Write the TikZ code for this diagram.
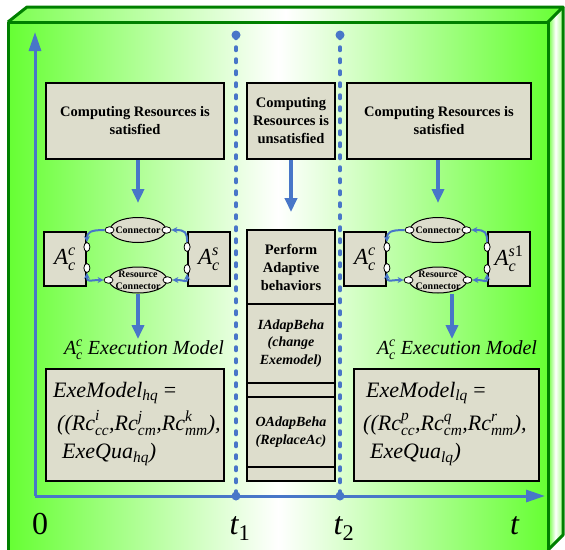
\documentclass[tikz,border=0pt]{standalone}
\usepackage{amsmath}
\usepackage{fontspec}
\setmainfont{Liberation Serif}
\usetikzlibrary{arrows.meta,calc,shapes.geometric}
\definecolor{gr}{RGB}{102,255,51}
\definecolor{dgr}{RGB}{0,128,0}
\definecolor{bl}{RGB}{72,118,200}
\definecolor{bx}{RGB}{221,221,204}
\newcommand\tx[1]{\textit{#1}}
\tikzset{
  box/.style={draw=black, line width=1.8pt, fill=bx, inner sep=0pt, align=center,
    font=\fontsize{14.5}{18}\selectfont\bfseries},
  acb/.style={minimum width=42pt, minimum height=54pt, font=\fontsize{23}{24}\selectfont},
  ell/.style={ellipse, draw=black, line width=1pt, fill=bx, inner sep=0pt},
  elltext/.style={inner sep=0pt, align=center, font=\fontsize{10}{12}\selectfont\bfseries},
  port/.style={ellipse, draw=black, line width=0.8pt, fill=white, inner sep=0pt,
    minimum width=6pt, minimum height=9pt},
  hport/.style={port, minimum width=9pt, minimum height=6.5pt},
  barrow/.style={bl, line width=3.5pt, -{Triangle[width=12pt,length=14pt]}},
  axarrow/.style={bl, line width=3pt, -{Triangle[width=12pt,length=19pt]}},
  link/.style={bl, line width=2pt},
  tip/.tip={Stealth[length=6pt,width=6pt]},
  lbl/.style={inner sep=0pt, font=\fontsize{20}{22}\selectfont\itshape},
  mtext/.style={inner sep=0pt, anchor=base west, font=\fontsize{22}{24}\selectfont},
  tlab/.style={inner sep=0pt, anchor=base, font=\fontsize{32}{34}\selectfont},
  dotline/.style={bl, line width=3.5pt, line cap=round, dash pattern=on 3.5pt off 8.5pt},
}
\begin{document}
\begin{tikzpicture}[x=1pt,y=-1pt]
\useasboundingbox (0,0) rectangle (565,549);
\clip (0,0) rectangle (565,549);
% cuboid faces
\shade[left color=gr, right color=gr, middle color=white] (8,22) rectangle (548,560);
\shade[left color=gr!85!white, right color=gr, middle color=white]
  (8,22) -- (27,7) -- (563,7) -- (548,22) -- cycle;
\shade[left color=gr, right color=gr!60!white, middle color=white]
  (548,22) -- (563,7) -- (563,535) -- (548,550) -- cycle;
\draw[dgr, line width=3pt, line join=round] (8,560) -- (8,22) -- (548,22) -- (548,560);
\draw[dgr, line width=3pt, line join=round] (8,22) -- (27,7) -- (563,7) -- (548,22);
\draw[dgr, line width=3pt, line join=round] (563,7) -- (563,535) -- (548,550);

% axes
\coordinate (o) at (35,496);
\coordinate (ytop) at (35,32);
\coordinate (xend) at (545,496);
\coordinate (d1t) at (236,35);
\coordinate (d1b) at (236,496);
\coordinate (d2t) at (340,35);
\coordinate (d2b) at (340,496);
\draw[dotline] (d1t) -- (d1b);
\draw[dotline] (d2t) -- (d2b);
\draw[axarrow] (o) -- (ytop);
\draw[axarrow] (o) -- (xend);
\fill[bl] (d1t) circle (4.5) (d1b) circle (4.5) (d2t) circle (4.5) (d2b) circle (4.5);

\node[tlab] (l0) at (40,534) {0};
\node[tlab] (lt1) at (240,534) {$\tx{t}_{\text{1}}$};
\node[tlab] (lt2) at (344,534) {$\tx{t}_{\text{2}}$};
\node[tlab] (ltt) at (515,534) {\tx{t}};

% top boxes
\node[box, minimum width=178pt, minimum height=76pt] (lt) at (135,121) {Computing Resources is\\satisfied};
\node[box, minimum width=88pt, minimum height=76pt] (mt) at (291,121) {Computing\\Resources is\\unsatisfied};
\node[box, minimum width=184pt, minimum height=76pt] (rt) at (439,121) {Computing Resources is\\satisfied};

% middle column
\node[box, minimum width=88pt, minimum height=74pt] (perf) at (291,267) {Perform\\Adaptive\\behaviors};
\node[box, minimum width=88pt, minimum height=79pt, font=\fontsize{14}{17.5}\selectfont\bfseries\itshape] (iad) at (291,343.5) {IAdapBeha\\(change\\Exemodel)};
\node[box, minimum width=88pt, minimum height=14pt] (s1) at (291,390) {};
\node[box, minimum width=88pt, minimum height=70pt, font=\fontsize{14}{17.5}\selectfont\bfseries\itshape] (oad) at (291,432) {OAdapBeha\\(ReplaceAc)};
\node[box, minimum width=88pt, minimum height=14pt] (s2) at (291,474) {};
\draw[barrow, shorten >=17pt] (mt.south) -- (perf.north);

% component groups
\foreach \g/\dx/\sl in {1/0/\tx{s},2/300/\tx{s}\text{1}}{
  \node[box, acb] (ac\g) at ({65+\dx},259) {$\tx{A}^{\tx{c}}_{\tx{c}}$};
  \node[box, acb] (as\g) at ({209+\dx},259) {$\tx{A}^{\sl}_{\tx{c}}$};
  \node[ell, minimum width=56pt, minimum height=25pt] (con\g) at ({138+\dx},230) {};
  \node[elltext] (cont\g) at (con\g) {Connector};
  \node[ell, minimum width=58pt, minimum height=26pt] (rc\g) at ({138+\dx},280) {};
  \node[elltext] (rct\g) at (rc\g) {Resource\\Connector};
  \node[port] (p\g1) at ($(ac\g.east)+(0,-12)$) {};
  \node[port] (p\g2) at ($(ac\g.east)+(0,9)$) {};
  \node[port] (p\g3) at ($(as\g.west)+(0,-12)$) {};
  \node[port] (p\g4) at ($(as\g.west)+(0,10)$) {};
  \node[hport] (q\g1) at (con\g.west) {};
  \node[hport] (q\g2) at (con\g.east) {};
  \node[hport] (q\g3) at (rc\g.west) {};
  \node[hport] (q\g4) at (rc\g.east) {};
  \draw[link, -tip] (q\g1.west) .. controls +(-14,0) and +(0,-10) .. (p\g1.north);
  \draw[link, -tip] (p\g3.north) .. controls +(0,-10) and +(14,0) .. (q\g2.east);
  \draw[link, tip-tip] (p\g2.south) .. controls +(0,10) and +(-14,0) .. (q\g3.west);
  \draw[link, tip-tip] (q\g4.east) .. controls +(14,0) and +(0,10) .. (p\g4.south);
}
\draw[barrow, shorten >=14pt] (lt.south -| con1.north) -- (con1.north);
\draw[barrow, shorten >=14pt] (rt.south -| con2.north) -- (con2.north);

% execution model labels
\node[lbl] (lbl1) at (144,350) {$\tx{A}^{\tx{c}}_{\tx{c}}$ Execution Model};
\node[lbl] (lbl2) at (457,350) {$\tx{A}^{\tx{c}}_{\tx{c}}$ Execution Model};
\draw[barrow, shorten >=1pt] (rc1.south) -- (rc1.south |- lbl1.north);
\draw[barrow, shorten >=1pt] ($(rc2.south)+(14,0)$) -- ($(rc2.south |- lbl2.north)+(14,0)$);

% model boxes
\node[box, minimum width=178pt, minimum height=112pt] (m1) at (135,425) {};
\node[box, minimum width=185pt, minimum height=112pt] (m2) at (446.5,425) {};
\node[mtext] (m1a) at (53,397) {$\tx{ExeModel}_{\tx{hq}}\ \text{=}$};
\node[mtext] (m1b) at (57,430) {$\tx{((Rc}^{\tx{i}}_{\tx{cc}}\tx{,Rc}^{\tx{j}}_{\tx{cm}}\tx{,Rc}^{\tx{k}}_{\tx{mm}}\tx{),}$};
\node[mtext] (m1c) at (62,458) {$\tx{ExeQua}_{\tx{hq}}\tx{)}$};
\node[mtext] (m2a) at (366,397) {$\tx{ExeModel}_{\tx{lq}}\ \text{=}$};
\node[mtext] (m2b) at (363,430) {$\tx{((Rc}^{\tx{p}}_{\tx{cc}}\tx{,Rc}^{\tx{q}}_{\tx{cm}}\tx{,Rc}^{\tx{r}}_{\tx{mm}}\tx{),}$};
\node[mtext] (m2c) at (370,458) {$\tx{ExeQua}_{\tx{lq}}\tx{)}$};
\end{tikzpicture}
\end{document}
